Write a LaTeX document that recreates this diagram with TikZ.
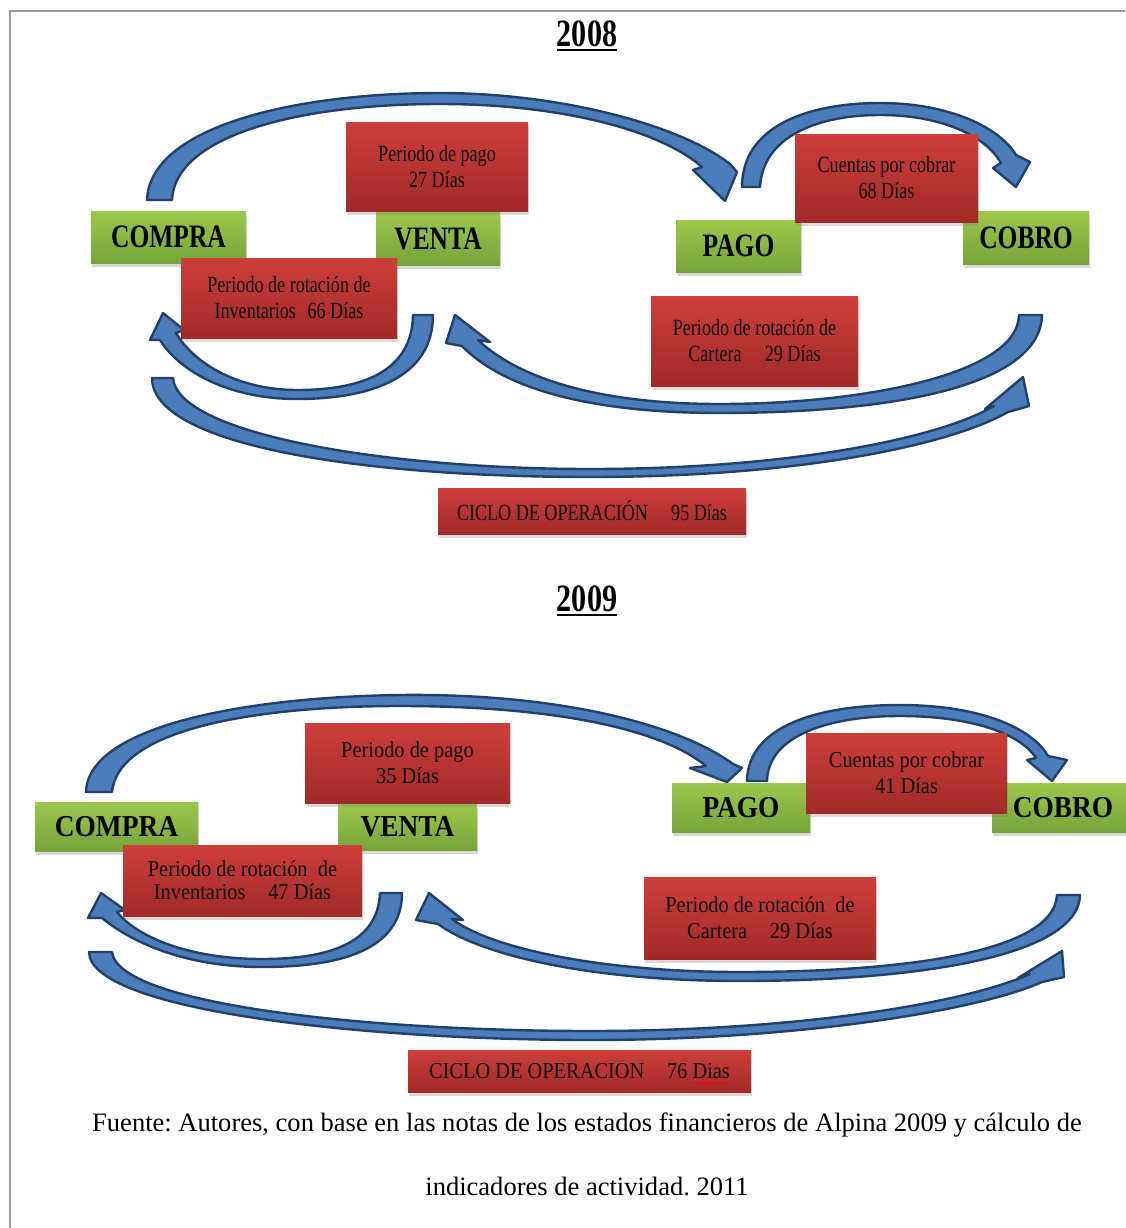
\documentclass[tikz,border=0pt]{standalone}
\usepackage{fontspec}
\setmainfont{Liberation Serif}
\newfontfamily\narrowA[FakeStretch=0.78]{Liberation Serif}
\newfontfamily\narrowB[FakeStretch=0.9]{Liberation Serif}
\usetikzlibrary{shadows,decorations.pathmorphing}
\definecolor{greentop}{HTML}{9DC84C}
\definecolor{greenbot}{HTML}{77A33A}
\definecolor{redtop}{HTML}{CE3E3B}
\definecolor{redbot}{HTML}{A02A28}
\definecolor{arrowfill}{HTML}{4A7DBA}
\definecolor{arrowline}{HTML}{22406A}
\definecolor{framegray}{HTML}{9A9A9A}
\newcommand{\yearul}[1]{\setbox0\hbox{#1}\vtop{\box0\kern1.5pt\hrule height 2pt}}
\frenchspacing

\begin{document}
\begin{tikzpicture}[
  x=0.75pt, y=-0.75pt,
  wh/.style 2 args={minimum width=#1*0.75pt, minimum height=#2*0.75pt},
  boxshadow/.style={drop shadow={shadow xshift=1pt, shadow yshift=-3pt, opacity=0.3}},
  greenbox/.style={rectangle, inner sep=0pt, top color=greentop, bottom color=greenbot, boxshadow},
  redbox/.style={rectangle, inner sep=0pt, align=center, top color=redtop, bottom color=redbot, text=black!95, boxshadow},
  greenA/.style={greenbox, font=\narrowA\bfseries\fontsize{24.5pt}{28pt}\selectfont},
  greenB/.style={greenbox, font=\narrowB\bfseries\fontsize{22.8pt}{26pt}\selectfont},
  redA/.style={redbox, font=\narrowA\fontsize{17.4pt}{19.5pt}\selectfont},
  redB/.style={redbox, font=\narrowB\fontsize{17pt}{19.5pt}\selectfont},
  year/.style={font=\narrowA\bfseries\fontsize{29pt}{34pt}\selectfont},
  note/.style={font=\fontsize{19.9pt}{24pt}\selectfont},
  blockarrow/.style={fill=arrowfill, draw=arrowline, line width=1.8pt, line join=round},
]
\useasboundingbox (0,0) rectangle (1125,1228);

% frame
\draw[framegray, line width=1pt] (1125,11) -- (10,11) -- (10,1228);

% ---------- 2008 ----------
\node[year] (yearA) at (587,36) {\yearul{2008}};

% block arrows
\filldraw[blockarrow] (147,200) .. controls (150,125) and (300,93) .. (440,93)
  .. controls (560,93) and (680,125) .. (730,164)
  -- (737,172) -- (725,201) -- (693,170) -- (702,167)
  .. controls (660,130) and (560,104) .. (440,104)
  .. controls (300,104) and (175,135) .. (172,200) -- cycle;
\filldraw[blockarrow] (742,187) .. controls (742,125) and (810,103) .. (880,103)
  .. controls (950,103) and (1000,128) .. (1016,155)
  -- (1030,162) -- (1016,187) -- (993,168) -- (1001,163)
  .. controls (985,135) and (940,115) .. (880,115)
  .. controls (820,115) and (763,135) .. (760,187) -- cycle;
\filldraw[blockarrow] (433,315) .. controls (433,378) and (370,399) .. (297,399)
  .. controls (230,399) and (180,372) .. (160,340)
  -- (150,340) -- (163,313) -- (184,330) -- (176,333)
  .. controls (195,365) and (240,390) .. (297,390)
  .. controls (365,390) and (412,370) .. (413,315) -- cycle;
\filldraw[blockarrow] (1042,315) .. controls (1040,392) and (870,413) .. (720,413)
  .. controls (580,413) and (500,385) .. (462,346)
  -- (446,343) -- (455,315) -- (490,342) -- (478,340)
  .. controls (515,375) and (590,404) .. (720,404)
  .. controls (860,404) and (1018,375) .. (1019,315) -- cycle;
\filldraw[blockarrow] (152,378) .. controls (152,445) and (360,477) .. (590,477)
  .. controls (800,477) and (950,445) .. (1008,412)
  -- (1029,406) -- (1023,377) -- (985,409) -- (994,406)
  .. controls (940,438) and (790,469) .. (590,469)
  .. controls (390,469) and (178,435) .. (173,378) -- cycle;

% green steps
\node[greenA, wh={155}{52}] (compraA) at (168.5,237) {COMPRA};
\node[greenA, wh={124}{53}] (ventaA) at (438,238.5) {VENTA};
\node[greenA, wh={125}{52}] (pagoA) at (738.5,246) {PAGO};
\node[greenA, wh={126}{53}] (cobroA) at (1026,237.5) {COBRO};

% red periods
\node[redA, wh={182}{89}] (pagoperA) at (437,166.5) {Periodo de pago\\27 Días};
\node[redA, wh={216}{80}] (inventA) at (289,298) {Periodo de rotación de\\Inventarios\enspace 66 Días};
\node[redA, wh={183}{88}] (cuentasA) at (886.5,178) {Cuentas por cobrar\\68 Días};
\node[redA, wh={207}{90}] (carteraA) at (754.5,341) {Periodo de rotación de\\Cartera\quad 29 Días};
\node[redA, wh={308}{46}] (cicloA) at (592,511) {CICLO DE OPERACIÓN\quad 95 Días};

% ---------- 2009 ----------
\node[year] (yearB) at (587,601) {\yearul{2009}};

% block arrows
\filldraw[blockarrow] (86,792) .. controls (88,725) and (250,697) .. (400,695)
  .. controls (560,693) and (680,725) .. (733,764)
  -- (742,768) -- (727,782) -- (690,768) -- (706,766)
  .. controls (660,728) and (550,706) .. (400,706)
  .. controls (260,706) and (118,728) .. (112,792) -- cycle;
\filldraw[blockarrow] (747,781) .. controls (748,725) and (820,705) .. (900,705)
  .. controls (980,705) and (1032,728) .. (1048,756)
  -- (1067,760) -- (1052,781) -- (1027,760) -- (1036,758)
  .. controls (1020,733) and (970,716) .. (900,716)
  .. controls (830,716) and (768,735) .. (767,781) -- cycle;
\filldraw[blockarrow] (402,893) .. controls (402,950) and (340,967) .. (262,967)
  .. controls (190,967) and (135,945) .. (102,918)
  -- (88,918) -- (101,893) -- (125,910) -- (117,912)
  .. controls (140,940) and (195,959) .. (262,959)
  .. controls (335,959) and (378,940) .. (380,893) -- cycle;
\filldraw[blockarrow] (1080,895) .. controls (1078,960) and (900,981) .. (740,981)
  .. controls (590,981) and (480,955) .. (438,924)
  -- (416,920) -- (429,893) -- (463,920) -- (452,919)
  .. controls (490,948) and (600,972) .. (740,972)
  .. controls (890,972) and (1054,955) .. (1057,895) -- cycle;
\filldraw[blockarrow] (89,952) .. controls (90,1010) and (360,1040) .. (590,1040)
  .. controls (800,1040) and (980,1010) .. (1042,982)
  -- (1064,977) -- (1062,951) -- (1018,978) -- (1030,974)
  .. controls (960,1005) and (790,1031) .. (590,1031)
  .. controls (370,1031) and (118,1005) .. (112,952) -- cycle;

% green steps
\node[greenB, wh={163}{49}] (compraB) at (116.5,826.5) {COMPRA};
\node[greenB, wh={139}{46}] (ventaB) at (407.5,827) {VENTA};
\node[greenB, wh={138}{49}] (pagoB) at (741,807.5) {PAGO};
\node[greenB, wh={142}{49}] (cobroB) at (1063,807.5) {COBRO};

% red periods
\node[redB, wh={205}{80}] (pagoperB) at (407.5,763) {Periodo de pago\\35 Días};
\node[redB, wh={239}{71}, font=\narrowB\fontsize{17pt}{17.3pt}\selectfont] (inventB) at (242.5,880.5) {Periodo de rotación\ \ de\\Inventarios\quad 47 Días};
\node[redB, wh={201}{80}] (cuentasB) at (906.5,773) {Cuentas por cobrar\\41 Días};
\node[redB, wh={232}{82}] (carteraB) at (760,918) {Periodo de rotación\ \ de\\Cartera\quad 29 Días};
\node[redB, wh={343}{42}] (cicloB) at (579.5,1071) {CICLO DE OPERACION\quad 76 Dias};
\draw[red, line width=0.6pt, decorate, decoration={snake, amplitude=0.7pt, segment length=3pt}] (693,1083) -- (727,1083);

% source note
\node[note] (fuente1) at (587,1125) {Fuente: Autores, con base en las notas de los estados financieros de Alpina 2009 y cálculo de};
\node[note] (fuente2) at (587,1186) {indicadores de actividad. 2011};
\end{tikzpicture}
\end{document}
